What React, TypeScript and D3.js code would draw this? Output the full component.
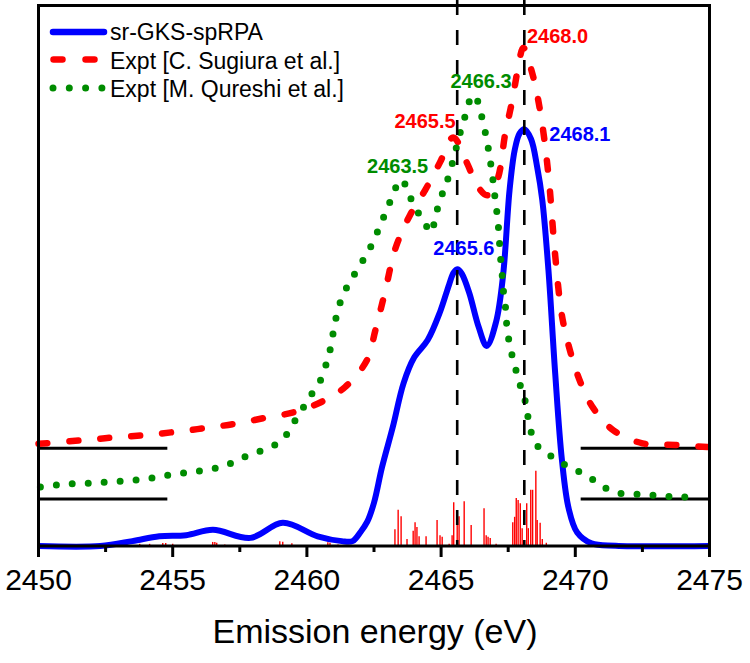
import React from 'react';
import * as d3 from 'd3';

const W = 750;
const H = 663;

// x-axis ticks
const majorTicks = [2450, 2455, 2460, 2465, 2470, 2475];
const minorTicks = [2452.5, 2457.5, 2462.5, 2467.5, 2472.5];

// sr-GKS-spRPA (blue) – energy (eV) / intensity (a.u.)
const blueE = [2450, 2452.3, 2453.5, 2454.5, 2455.5, 2456.5, 2457.9, 2459.1, 2460.4, 2461.3, 2461.7, 2462.0, 2462.25, 2462.5, 2462.8, 2463.2, 2463.6, 2464.0, 2464.5, 2464.96, 2465.3, 2465.47, 2465.62, 2465.78, 2466.05, 2466.4, 2466.7, 2467.05, 2467.31, 2467.55, 2467.74, 2467.92, 2468.1, 2468.35, 2468.58, 2468.77, 2469.0, 2469.25, 2469.5, 2469.75, 2470.07, 2470.6, 2471.5, 2475];
const blueI = [0, 0, 0.9, 1.8, 2.0, 3.0, 1.5, 4.3, 1.8, 0.9, 0.9, 2.6, 4.5, 8.0, 14.6, 22.0, 30.1, 34.9, 38.1, 43.3, 48.4, 50.6, 51.2, 50.3, 46.8, 40.5, 37.0, 41.5, 50.1, 65.8, 73.2, 76.3, 77.1, 75.3, 70.1, 64.0, 51.0, 32.0, 16.0, 7.0, 2.5, 0.5, 0.05, 0];

// Expt [C. Sugiura et al.] (red, offset)
const redE = [2450.0, 2451.72, 2452.84, 2453.96, 2455.07, 2456.19, 2457.31, 2458.43, 2459.55, 2460.52, 2461.42, 2462.24, 2462.55, 2462.9, 2463.3, 2463.84, 2464.4, 2464.96, 2465.45, 2465.97, 2466.34, 2466.72, 2467.09, 2467.39, 2467.65, 2467.87, 2468.06, 2468.4, 2468.7, 2468.99, 2469.25, 2469.5, 2469.8, 2470.19, 2470.67, 2471.42, 2472.5, 2473.73, 2474.96];
const redI = [18.9, 19.6, 20.1, 20.5, 21.1, 21.8, 22.6, 23.7, 24.8, 26.6, 29.4, 34.4, 39.9, 46.8, 55.1, 61.2, 65.8, 71.0, 75.6, 70.8, 66.7, 64.9, 67.7, 76.3, 82.4, 88.5, 92.2, 87.4, 80.2, 69.1, 53.8, 42.7, 36.2, 30.3, 25.5, 21.4, 19.0, 18.7, 18.3];

// Expt [M. Qureshi et al.] (green, offset)
const greenE = [2450.07, 2450.7, 2451.27, 2451.9, 2452.46, 2453.06, 2453.62, 2454.25, 2454.81, 2455.41, 2456.01, 2456.6, 2457.16, 2457.69, 2458.28, 2458.81, 2459.22, 2459.52, 2459.85, 2460.15, 2460.49, 2460.71, 2460.86, 2460.97, 2461.08, 2461.23, 2461.45, 2461.75, 2462.05, 2462.35, 2462.61, 2462.84, 2463.06, 2463.28, 2463.54, 2463.77, 2464.03, 2464.37, 2464.63, 2464.78, 2464.96, 2465.15, 2465.34, 2465.49, 2465.64, 2465.78, 2465.97, 2466.15, 2466.35, 2466.5, 2466.63, 2466.74, 2466.84, 2466.92, 2466.99, 2467.06, 2467.13, 2467.17, 2467.21, 2467.27, 2467.31, 2467.39, 2467.43, 2467.5, 2467.61, 2467.76, 2467.91, 2468.1, 2468.21, 2468.32, 2468.51, 2468.99, 2469.51, 2470.04, 2470.56, 2471.05, 2471.6, 2472.2, 2472.8, 2473.4, 2474.0, 2474.6];
const greenI = [10.9, 11.3, 11.5, 11.6, 11.8, 12.0, 12.2, 12.6, 13.1, 13.5, 13.9, 14.4, 15.3, 16.5, 17.6, 18.7, 20.5, 22.9, 25.5, 27.9, 30.5, 33.5, 36.2, 39.2, 42.1, 44.9, 47.5, 50.1, 52.5, 55.1, 57.9, 60.6, 63.2, 66.0, 67.8, 65.4, 62.7, 59.9, 58.0, 60.8, 64.0, 66.5, 69.3, 72.3, 75.0, 77.8, 80.6, 83.4, 82.4, 79.7, 76.9, 74.1, 71.0, 68.2, 65.2, 62.5, 59.3, 56.6, 53.6, 50.6, 47.7, 44.7, 41.8, 38.8, 36.0, 33.1, 30.3, 27.5, 24.6, 21.8, 19.0, 17.0, 15.3, 14.0, 12.6, 10.9, 9.8, 9.6, 9.4, 9.2, 9.1, 8.9];

// offset baselines of the experimental spectra
const baselineRed = 18.1;
const baselineGreen = 8.7;
const baselineSegments = [[2450, 2454.8], [2470.2, 2475]];

// calculated transitions (red sticks)
const stickE = [2453.77, 2454.14, 2454.63, 2454.74, 2455.0, 2456.49, 2456.57, 2456.64, 2456.94, 2458.99, 2459.1, 2459.44, 2460.78, 2460.86, 2461.16,
  2463.28, 2463.4, 2463.51, 2463.73, 2463.96, 2464.03, 2464.1, 2464.18, 2464.44, 2464.85, 2464.96, 2465.04, 2465.3, 2465.41, 2465.47, 2465.6, 2465.67, 2465.86, 2466.12,
  2466.6, 2466.68, 2466.75, 2466.83, 2467.05, 2467.67, 2467.74, 2467.8, 2467.87, 2467.95, 2468.02, 2468.19, 2468.25, 2468.34, 2468.41, 2468.53, 2468.58, 2468.69, 2468.77, 2468.92];
const stickI = [0.4, 0.4, 0.55, 0.55, 0.4, 0.75, 0.75, 0.6, 0.3, 0.9, 0.8, 0.5, 0.7, 0.6, 0.3,
  3.1, 6.7, 5.5, 1.3, 2.8, 4.4, 3.5, 1.8, 1.8, 4.8, 2.0, 1.7, 0.4, 2.0, 8.1, 5.9, 5.5, 8.3, 3.9,
  7.0, 2.0, 1.7, 1.5, 0.4, 4.4, 5.4, 8.9, 8.5, 7.9, 3.3, 7.9, 3.3, 10.4, 10.4, 13.9, 4.8, 4.3, 1.3, 0.6];

// reference energies (dashed lines)
const refLines = [2465.6, 2468.1];

// peak annotations: text, anchor energy, anchor intensity, series
const peakText = ['2468.0', '2466.3', '2465.5', '2468.1', '2463.5', '2465.6'];
const peakE = [2469.34, 2466.49, 2464.4, 2470.17, 2463.38, 2465.85];
const peakI = [93.0, 84.8, 77.3, 75.0, 69.1, 53.8];
const peakSeries = ['red', 'green', 'red', 'blue', 'green', 'blue'];

const legendLabels = ['sr-GKS-spRPA', 'Expt [C. Sugiura et al.]', 'Expt [M. Qureshi et al.]'];

const COLORS: Record<string, string> = { blue: '#0000ff', red: '#ff0000', green: '#008c00' };
const FONT = '"Liberation Sans", Arial, Helvetica, sans-serif';

export default function App() {
  const x = d3.scaleLinear().domain([2450, 2475]).range([38.5, 709.5]);
  const y = d3.scaleLinear().domain([0, 100]).range([546, 5.5]);
  const line = d3.line<[number, number]>()
    .x(d => x(d[0]))
    .y(d => y(d[1]))
    .curve(d3.curveCatmullRom.alpha(0.5));

  const zip = (a: number[], b: number[]) => a.map((v, i) => [v, b[i]] as [number, number]);
  const bluePath = line(zip(blueE, blueI)) || '';
  const redPath = line(zip(redE, redI)) || '';
  const greenPath = line(zip(greenE, greenI)) || '';

  const plotTop = y(100);
  const plotBottom = y(0);

  return (
    <svg width={W} height={H} style={{ position: 'absolute', left: 0, top: 0, background: '#fff' }} fontFamily={FONT}>
      <rect x={0} y={0} width={W} height={H} fill="#fff" />
      {/* sticks */}
      <g stroke="#ff0000" strokeWidth={1.4}>
        {stickE.map((e, i) => (
          <line key={i} x1={x(e)} x2={x(e)} y1={y(0)} y2={y(stickI[i])} />
        ))}
      </g>
      {/* baselines */}
      <g stroke="#000" strokeWidth={3}>
        {baselineSegments.map((s, i) => (
          <g key={i}>
            <line x1={x(s[0])} x2={x(s[1])} y1={y(baselineRed)} y2={y(baselineRed)} />
            <line x1={x(s[0])} x2={x(s[1])} y1={y(baselineGreen)} y2={y(baselineGreen)} />
          </g>
        ))}
      </g>
      {/* curves */}
      <path d={bluePath} fill="none" stroke={COLORS.blue} strokeWidth={6} strokeLinejoin="round" />
      <path d={redPath} fill="none" stroke={COLORS.red} strokeWidth={6.5} strokeDasharray="9,22" strokeLinecap="round" />
      <path d={greenPath} fill="none" stroke={COLORS.green} strokeWidth={7} strokeDasharray="0,16" strokeLinecap="round" />
      {/* reference dashed lines */}
      <g stroke="#000" strokeWidth={2.6} strokeDasharray="15,15">
        {refLines.map((e, i) => (
          <line key={i} x1={x(e)} x2={x(e)} y1={0} y2={plotBottom} />
        ))}
      </g>
      {/* peak labels */}
      <g fontWeight="bold" fontSize={20} textAnchor="middle">
        {peakText.map((t, i) => (
          <text key={i} x={x(peakE[i])} y={y(peakI[i])} fill={COLORS[peakSeries[i]]}>{t}</text>
        ))}
      </g>
      {/* frame */}
      <rect x={x(2450)} y={plotTop} width={x(2475) - x(2450)} height={plotBottom - plotTop} fill="none" stroke="#000" strokeWidth={3} />
      {/* ticks */}
      <g stroke="#000" strokeWidth={3}>
        {majorTicks.map(t => (
          <line key={t} x1={x(t)} x2={x(t)} y1={plotBottom} y2={plotBottom + 11} />
        ))}
        {minorTicks.map(t => (
          <line key={t} x1={x(t)} x2={x(t)} y1={plotBottom} y2={plotBottom + 6} />
        ))}
      </g>
      <g fontSize={30} textAnchor="middle" fill="#000">
        {majorTicks.map(t => (
          <text key={t} x={x(t)} y={590}>{t}</text>
        ))}
      </g>
      <text x={375} y={643} fontSize={34} textAnchor="middle" fill="#000">Emission energy (eV)</text>
      {/* legend */}
      <g>
        <line x1={53} x2={104} y1={32} y2={32} stroke={COLORS.blue} strokeWidth={6.5} strokeLinecap="round" />
        <line x1={53.5} x2={96} y1={59.5} y2={59.5} stroke={COLORS.red} strokeWidth={6.5} strokeDasharray="9,23" strokeLinecap="round" />
        <line x1={53} x2={104} y1={88} y2={88} stroke={COLORS.green} strokeWidth={7} strokeDasharray="0,16.3" strokeLinecap="round" />
        {legendLabels.map((l, i) => (
          <text key={i} x={110} y={40 + i * 28.5} fontSize={23} fill="#000">{l}</text>
        ))}
      </g>
    </svg>
  );
}
